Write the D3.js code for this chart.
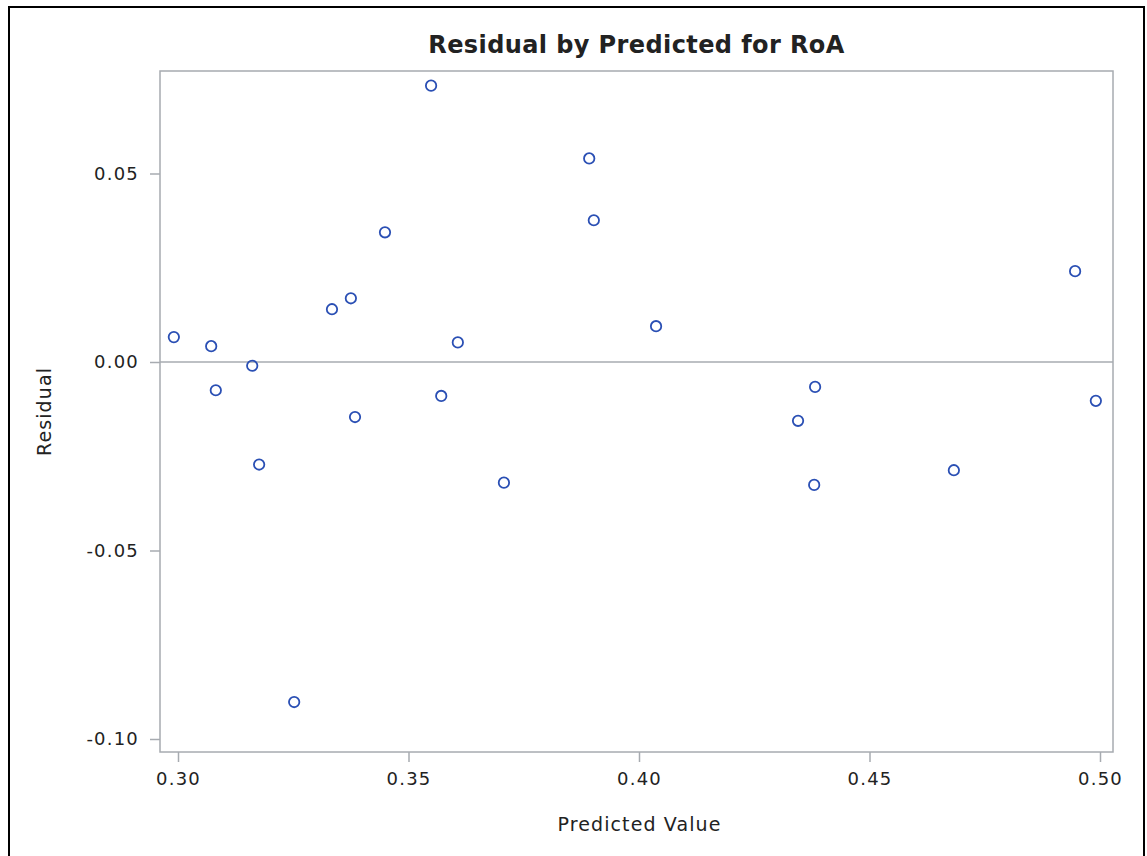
<!DOCTYPE html>
<html>
<head>
<meta charset="utf-8">
<script src="https://cdn.jsdelivr.net/npm/d3@7"></script>
<style>
  body { margin: 0; background: #fff; }
  text { font-family: 'DejaVu Sans', sans-serif; fill: #222; }
</style>
</head>
<body>
<div id="svg-container"></div>
<script>
(function () {
  'use strict'

  // Predicted value and residual for each observation
  var predicted = [0.2991, 0.3072, 0.3082, 0.3161, 0.3176, 0.3252, 0.3334, 0.3375,
    0.3384, 0.3449, 0.3549, 0.3571, 0.3607, 0.3707, 0.3892, 0.3902, 0.4037,
    0.4345, 0.4382, 0.4380, 0.4683, 0.4946, 0.4991]
  var residual = [0.0066, 0.0042, -0.0075, -0.0010, -0.0272, -0.0902, 0.0140, 0.0169,
    -0.0146, 0.0344, 0.0733, -0.0090, 0.0052, -0.0320, 0.0540, 0.0376, 0.0095,
    -0.0156, -0.0066, -0.0326, -0.0287, 0.0241, -0.0103]

  var xTicks = [0.30, 0.35, 0.40, 0.45, 0.50]
  var yTicks = [-0.10, -0.05, 0.00, 0.05]

  var title = 'Residual by Predicted for RoA'
  var xLabel = 'Predicted Value'
  var yLabel = 'Residual'

  var dimensions = { w: 1147, h: 856 }
  var plotBox = { left: 160, top: 71, right: 1113, bottom: 752 }

  // plain hyphen for negatives, like the original
  var fmt = function (d) { return d.toFixed(2) }

  var svg = d3.select('#svg-container').append('svg')
    .attr('width', dimensions.w)
    .attr('height', dimensions.h)

  // Outer black border
  svg.append('rect')
    .attr('x', 9).attr('y', 7)
    .attr('width', 1135).attr('height', 870)
    .attr('fill', 'none')
    .attr('stroke', '#000')
    .attr('stroke-width', 2)

  var x = d3.scaleLinear().domain([0.30, 0.50]).range([178, 1100])
  var y = d3.scaleLinear().domain([-0.10, 0.05]).range([739, 173.5])

  var axisColor = '#a7abb0'

  // x axis
  var gx = svg.append('g')
    .attr('transform', 'translate(0,' + plotBox.bottom + ')')
    .call(d3.axisBottom(x).tickValues(xTicks).tickFormat(fmt)
      .tickSize(10).tickPadding(10).tickSizeOuter(0))
  gx.select('.domain').remove()
  gx.selectAll('line').attr('stroke', axisColor).attr('stroke-width', 1.5)
  gx.selectAll('text').style('font-size', '18px').style('letter-spacing', '1.2px')
    .attr('fill', '#222')

  // y axis
  var gy = svg.append('g')
    .attr('transform', 'translate(' + plotBox.left + ',0)')
    .call(d3.axisLeft(y).tickValues(yTicks).tickFormat(fmt)
      .tickSize(10).tickPadding(11).tickSizeOuter(0))
  gy.select('.domain').remove()
  gy.selectAll('line').attr('stroke', axisColor).attr('stroke-width', 1.5)
  gy.selectAll('text').style('font-size', '18px').style('letter-spacing', '1.2px')
    .attr('fill', '#222')

  // Plot frame
  svg.append('rect')
    .attr('x', plotBox.left).attr('y', plotBox.top)
    .attr('width', plotBox.right - plotBox.left)
    .attr('height', plotBox.bottom - plotBox.top)
    .attr('fill', 'none')
    .attr('stroke', axisColor)
    .attr('stroke-width', 1.5)

  // Zero reference line
  svg.append('line')
    .attr('x1', plotBox.left).attr('x2', plotBox.right)
    .attr('y1', y(0)).attr('y2', y(0))
    .attr('stroke', axisColor)
    .attr('stroke-width', 1.5)

  // Points
  svg.append('g').selectAll('circle')
    .data(predicted.map(function (p, i) { return { p: p, r: residual[i] } }))
    .enter().append('circle')
    .attr('cx', function (d) { return x(d.p) })
    .attr('cy', function (d) { return y(d.r) })
    .attr('r', 5.2)
    .attr('fill', 'none')
    .attr('stroke', '#2a4fb4')
    .attr('stroke-width', 1.8)

  // Titles
  svg.append('text')
    .attr('x', (plotBox.left + plotBox.right) / 2)
    .attr('y', 53)
    .attr('text-anchor', 'middle')
    .style('font-size', '24px')
    .style('font-weight', 'bold')
    .style('letter-spacing', '0.4px')
    .attr('fill', '#000')
    .text(title)

  svg.append('text')
    .attr('x', (plotBox.left + plotBox.right) / 2 + 3)
    .attr('y', 831)
    .attr('text-anchor', 'middle')
    .style('font-size', '19px')
    .style('letter-spacing', '1.1px')
    .text(xLabel)

  svg.append('text')
    .attr('transform', 'translate(51,' + (plotBox.top + plotBox.bottom) / 2 + ') rotate(-90)')
    .attr('text-anchor', 'middle')
    .style('font-size', '19px')
    .style('letter-spacing', '1.1px')
    .text(yLabel)
}())
</script>
</body>
</html>
